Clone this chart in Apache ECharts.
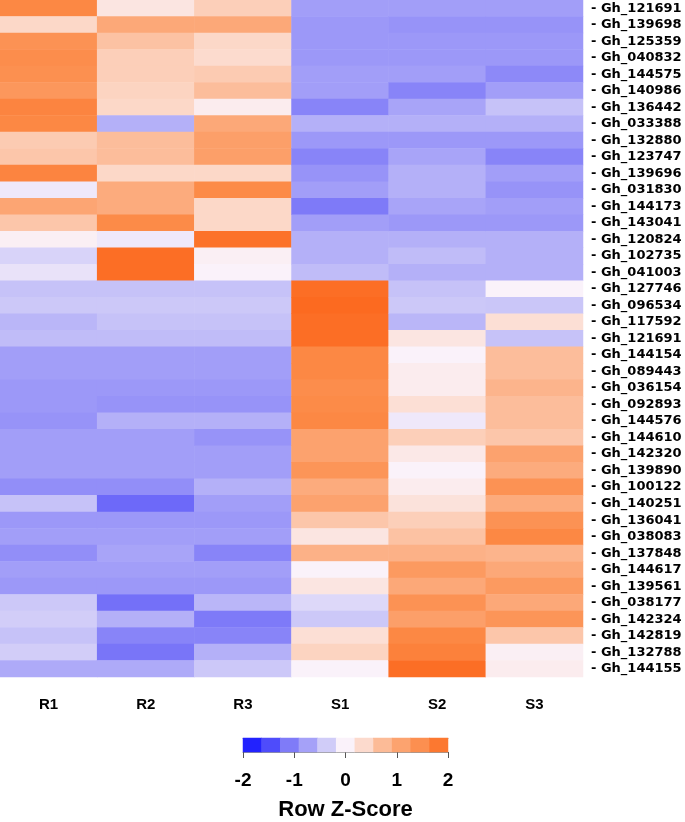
<!DOCTYPE html>
<html>
<head>
<meta charset="utf-8">
<script src="https://cdn.jsdelivr.net/npm/echarts@6/dist/echarts.min.js"></script>
<style>
html,body{margin:0;padding:0;background:#fff;}
#chart{width:685px;height:822px;}
</style>
</head>
<body>
<div id="chart"></div>
<script>
var samples = ['R1', 'R2', 'R3', 'S1', 'S2', 'S3'];
var genes = [
  'Gh_121691','Gh_139698','Gh_125359','Gh_040832','Gh_144575','Gh_140986','Gh_136442',
  'Gh_033388','Gh_132880','Gh_123747','Gh_139696','Gh_031830','Gh_144173','Gh_143041',
  'Gh_120824','Gh_102735','Gh_041003','Gh_127746','Gh_096534','Gh_117592','Gh_121691',
  'Gh_144154','Gh_089443','Gh_036154','Gh_092893','Gh_144576','Gh_144610','Gh_142320',
  'Gh_139890','Gh_100122','Gh_140251','Gh_136041','Gh_038083','Gh_137848','Gh_144617',
  'Gh_139561','Gh_038177','Gh_142324','Gh_142819','Gh_132788','Gh_144155'
];
// Row Z-scores, one row per gene: R1, R2, R3, S1, S2, S3
var zR1 = [1.6,0.4,1.4,1.5,1.45,1.3,1.65,1.6,0.55,0.6,1.65,-0.1,1.05,0.6,0.05,-0.3,-0.15,-0.45,-0.4,-0.55,-0.5,-0.75,-0.75,-0.8,-0.8,-0.85,-0.75,-0.75,-0.75,-0.9,-0.45,-0.8,-0.75,-0.9,-0.75,-0.8,-0.4,-0.35,-0.45,-0.35,-0.65];
var zR2 = [0.2,1.0,0.65,0.5,0.5,0.45,0.4,-0.6,0.7,0.7,0.4,0.95,0.95,1.55,-0.1,1.95,1.95,-0.45,-0.4,-0.45,-0.5,-0.75,-0.75,-0.8,-0.85,-0.6,-0.75,-0.75,-0.75,-0.9,-1.25,-0.8,-0.75,-0.7,-0.75,-0.8,-1.2,-0.6,-1.0,-1.15,-0.65];
var zR3 = [0.5,1.0,0.4,0.35,0.55,0.7,0.1,1.0,1.15,1.15,0.4,1.55,0.4,0.4,1.9,0.05,0.0,-0.45,-0.4,-0.45,-0.5,-0.75,-0.75,-0.8,-0.85,-0.6,-0.85,-0.75,-0.75,-0.6,-0.75,-0.8,-0.75,-1.0,-0.75,-0.8,-0.55,-1.1,-1.0,-0.6,-0.4];
var zS1 = [-0.75,-0.8,-0.8,-0.8,-0.75,-0.75,-1.0,-0.6,-0.8,-1.0,-0.85,-0.75,-1.1,-0.75,-0.6,-0.6,-0.5,1.95,2.0,1.95,1.95,1.6,1.6,1.5,1.55,1.6,1.1,1.1,1.35,0.95,1.1,0.6,0.2,0.85,0.0,0.2,-0.25,-0.4,0.3,0.45,0.0];
var zS2 = [-0.75,-0.85,-0.8,-0.8,-0.75,-1.0,-0.7,-0.6,-0.8,-0.7,-0.6,-0.6,-0.7,-0.8,-0.6,-0.5,-0.6,-0.45,-0.4,-0.55,0.2,0.0,0.1,0.1,0.3,-0.1,0.5,0.15,0.0,0.1,0.25,0.5,0.65,0.85,1.25,1.0,1.4,1.15,1.6,1.7,1.95];
var zS3 = [-0.75,-0.85,-0.8,-0.8,-0.95,-0.75,-0.45,-0.6,-0.8,-1.0,-0.75,-0.85,-0.75,-0.8,-0.6,-0.6,-0.6,0.0,-0.42,0.3,-0.45,0.7,0.7,0.8,0.7,0.7,0.6,1.1,0.95,1.4,0.95,1.4,1.6,0.8,1.0,1.25,1.0,1.35,0.6,0.05,0.1];
var keyBins = [-1.818,-1.455,-1.091,-0.727,-0.364,0,0.364,0.727,1.091,1.455,1.818];
var keyTicks = [-2, -1, 0, 1, 2];
var scaleColors = ['#1010FF','#3838FC','#7470F8','#9C98F8','#CCC8F8','#FAF2FA','#FCD8C8','#FCB48C','#FC9C64','#FC8844','#FC6A20'];

var cols = [zR1, zR2, zR3, zS1, zS2, zS3];
var cells = [];
for (var c = 0; c < cols.length; c++) {
  for (var r = 0; r < genes.length; r++) {
    cells.push([c, r, cols[c][r]]);
  }
}
var keyCells = keyBins.map(function (v, i) { return [i, 0, v]; });

var FONT = 'Liberation Sans, Arial, sans-serif';
var chart = echarts.init(document.getElementById('chart'));
chart.setOption({
  animation: false,
  backgroundColor: '#ffffff',
  grid: [
    { left: 0, top: 0, width: 583, height: 677 },
    { left: 243, top: 738, width: 205, height: 25 }
  ],
  xAxis: [
    {
      type: 'category', gridIndex: 0, data: samples, position: 'bottom',
      axisLine: { show: false }, axisTick: { show: false }, splitLine: { show: false },
      axisLabel: { fontFamily: FONT, fontWeight: 'bold', fontSize: 15, color: '#000', margin: 20 }
    },
    {
      type: 'category', gridIndex: 1, data: keyBins.map(String), position: 'top',
      axisLine: { show: true, lineStyle: { color: '#999', width: 1 } },
      axisTick: { show: false }, axisLabel: { show: false }
    },
    {
      type: 'value', gridIndex: 1, min: keyTicks[0], max: keyTicks[keyTicks.length - 1], interval: 1, position: 'bottom',
      axisLine: { show: true, lineStyle: { color: '#999', width: 1 } },
      axisTick: { show: true, length: 6, lineStyle: { color: '#555', width: 1 } },
      splitLine: { show: false },
      axisLabel: { fontFamily: FONT, fontWeight: 'bold', fontSize: 19, color: '#000', margin: 19 },
      name: 'Row Z-Score', nameLocation: 'middle', nameGap: 47,
      nameTextStyle: { fontFamily: FONT, fontWeight: 'bold', fontSize: 22, color: '#000' }
    }
  ],
  yAxis: [
    {
      type: 'category', gridIndex: 0, data: genes, inverse: true, position: 'right',
      axisLine: { show: false }, axisTick: { show: false }, splitLine: { show: false },
      axisLabel: {
        fontFamily: 'DejaVu Sans, sans-serif', fontWeight: 'bold', fontSize: 13, color: '#000', margin: 8,
        interval: 0,
        formatter: function (v) { return '- ' + v; }
      }
    },
    {
      type: 'category', gridIndex: 1, data: ['k'],
      axisLine: { show: false }, axisTick: { show: false }, axisLabel: { show: false }
    }
  ],
  visualMap: {
    show: false, type: 'continuous', min: -2, max: 2, seriesIndex: [0, 1], dimension: 2,
    inRange: { color: scaleColors }
  },
  series: [
    {
      type: 'heatmap', xAxisIndex: 0, yAxisIndex: 0, data: cells,
      itemStyle: { borderWidth: 0 }, emphasis: { disabled: true }
    },
    {
      type: 'heatmap', xAxisIndex: 1, yAxisIndex: 1, data: keyCells,
      itemStyle: { borderWidth: 0 }, emphasis: { disabled: true }
    }
  ]
});
</script>
</body>
</html>
